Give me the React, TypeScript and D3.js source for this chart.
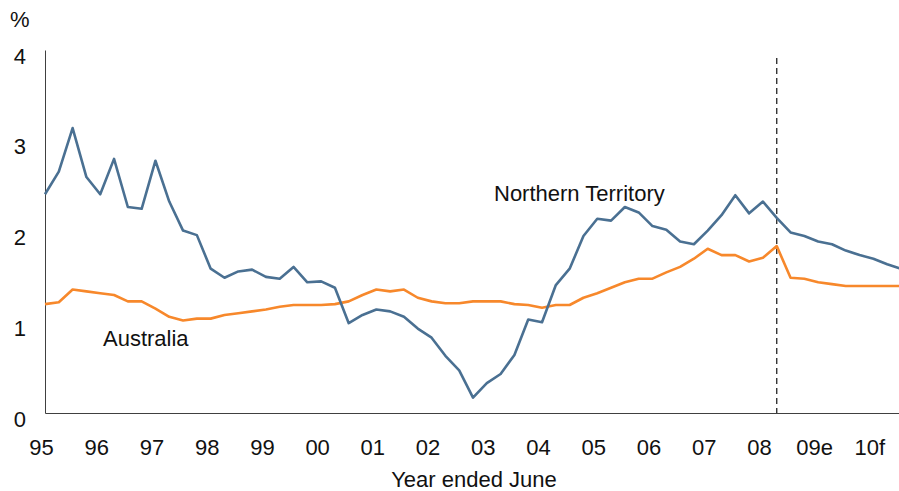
import React, { useEffect, useRef } from "react";
import { select, scaleLinear, line, axisBottom, axisLeft } from "d3";

// quarterly, Jun-95 .. Dec-10 (last 9 quarters are estimates / forecasts)
const northernTerritory = [
  2.41, 2.66, 3.14, 2.6, 2.41, 2.8, 2.27, 2.25, 2.78, 2.33, 2.01, 1.96,
  1.59, 1.49, 1.56, 1.58, 1.5, 1.48, 1.61, 1.44, 1.45, 1.38, 0.99, 1.08,
  1.14, 1.12, 1.06, 0.93, 0.83, 0.63, 0.47, 0.17, 0.33, 0.43, 0.64, 1.03,
  1.0, 1.41, 1.59, 1.95, 2.14, 2.12, 2.27, 2.21, 2.06, 2.02, 1.89, 1.86,
  2.01, 2.18, 2.4, 2.2, 2.33, 2.15, 1.99, 1.95, 1.89, 1.86, 1.79, 1.74,
  1.7, 1.64, 1.59,
];
const australia = [
  1.2, 1.22, 1.36, 1.34, 1.32, 1.3, 1.23, 1.23, 1.15, 1.06, 1.02, 1.04,
  1.04, 1.08, 1.1, 1.12, 1.14, 1.17, 1.19, 1.19, 1.19, 1.2, 1.23, 1.3,
  1.36, 1.34, 1.36, 1.27, 1.23, 1.21, 1.21, 1.23, 1.23, 1.23, 1.2, 1.19,
  1.16, 1.19, 1.19, 1.27, 1.32, 1.38, 1.44, 1.48, 1.48, 1.55, 1.61, 1.7,
  1.81, 1.74, 1.74, 1.67, 1.71, 1.84, 1.49, 1.48, 1.44, 1.42, 1.4, 1.4,
  1.4, 1.4, 1.4,
];
const yearLabels = ["95", "96", "97", "98", "99", "00", "01", "02", "03", "04", "05", "06", "07", "08", "09e", "10f"];
const yTicks = [0, 1, 2, 3, 4];
const forecastStart = 53; // quarter index where the dashed line sits

const NT_COLOR = "#4a7092";
const AUS_COLOR = "#f7882b";
const FONT = "'Liberation Sans', Arial, sans-serif";

const App = () => {
  const ref = useRef(null);

  useEffect(() => {
    const svg = select(ref.current);
    svg.selectAll("*").remove();

    // last quarter runs a touch past the right edge, as in the original
    const x = scaleLinear().domain([0, northernTerritory.length - 1]).range([45, 901]);
    const y = scaleLinear().domain([0, 4]).range([413, 50]);

    // x axis: just the baseline, labels placed once a year
    const xAxis = axisBottom(x).tickValues([]).tickSizeOuter(0);
    svg.append("g").attr("transform", "translate(0,413)").call(xAxis)
      .select(".domain").attr("stroke", "#404040");

    svg.append("g").selectAll("text").data(yearLabels).join("text")
      .attr("x", (d, i) => x(i * 4) - 3.5)
      .attr("y", 455)
      .attr("text-anchor", "middle")
      .text((d) => d);

    const yAxis = axisLeft(y).tickValues([]).tickSizeOuter(0);
    svg.append("g").attr("transform", "translate(45,0)").call(yAxis)
      .select(".domain").attr("stroke", "#404040");

    svg.append("g").selectAll("text").data(yTicks).join("text")
      .attr("x", 26)
      .attr("y", (d) => y(d) + 13.5)
      .attr("text-anchor", "end")
      .text((d) => d);

    svg.append("text").attr("x", 10).attr("y", 27).text("%");

    svg.append("line")
      .attr("x1", x(forecastStart)).attr("x2", x(forecastStart))
      .attr("y1", 58).attr("y2", 413)
      .attr("stroke", "#222").attr("stroke-width", 1.3)
      .attr("stroke-dasharray", "6,4");

    const myLine = line<number>().x((d, i) => x(i)).y((d) => y(d));

    svg.append("path").datum(australia)
      .attr("d", myLine).attr("fill", "none")
      .attr("stroke", AUS_COLOR).attr("stroke-width", 2.6).attr("stroke-linejoin", "round");

    svg.append("path").datum(northernTerritory)
      .attr("d", myLine).attr("fill", "none")
      .attr("stroke", NT_COLOR).attr("stroke-width", 2.6).attr("stroke-linejoin", "round");

    svg.append("text").attr("x", 494).attr("y", 201).text("Northern Territory");
    svg.append("text").attr("x", 103).attr("y", 346).text("Australia");
    svg.append("text").attr("x", 474).attr("y", 487).attr("text-anchor", "middle").text("Year ended June");
  }, []);

  return (
    <svg
      ref={ref}
      width={899}
      height={491}
      style={{ position: "absolute", left: 0, top: 0, background: "#fff", fontFamily: FONT, fontSize: 22, fill: "#111" }}
    />
  );
};

export default App;
